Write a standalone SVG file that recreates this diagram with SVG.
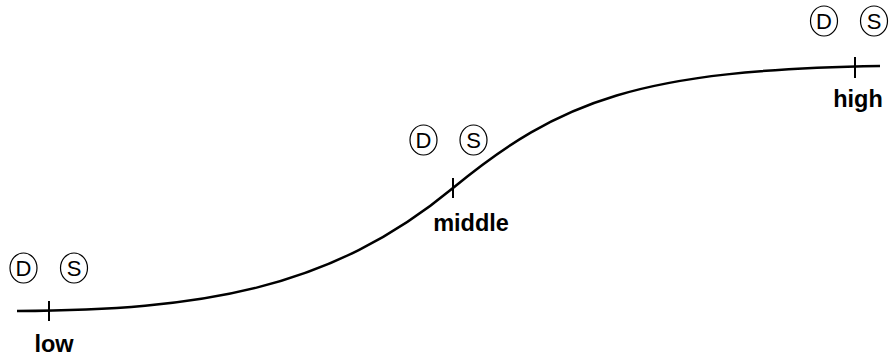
<svg xmlns="http://www.w3.org/2000/svg" width="892" height="356" viewBox="0 0 892 356">
<style>
.c{fill:none;stroke:#000;stroke-width:1.2}
.l{font-family:"Liberation Sans",Arial,sans-serif;font-size:22px;text-anchor:middle;fill:#000}
.b{font-family:"Liberation Sans",Arial,sans-serif;font-size:23.5px;font-weight:bold;text-anchor:middle;fill:#000}
.t{stroke:#000;stroke-width:2}
</style>
<rect width="892" height="356" fill="#fff"/>
<g id="connectors">
<path d="M17,311 C200,310 330,290 453,188 C560,100 640,70 880,66" fill="none" stroke="#000" stroke-width="2.5"/>
</g>
<g id="low">
<line class="t" x1="49" y1="301" x2="49" y2="321"/>
<ellipse class="c" cx="23.5" cy="268" rx="13.5" ry="15"/><text class="l" x="23.5" y="276">D</text>
<ellipse class="c" cx="74" cy="268" rx="13.5" ry="15"/><text class="l" x="74" y="276">S</text>
<text class="b" x="54" y="352">low</text>
</g>
<g id="middle">
<line class="t" x1="453" y1="178" x2="453" y2="198"/>
<ellipse class="c" cx="423.5" cy="140" rx="13.5" ry="15"/><text class="l" x="423.5" y="148">D</text>
<ellipse class="c" cx="473.5" cy="140" rx="13.5" ry="15"/><text class="l" x="473.5" y="148">S</text>
<text class="b" x="471" y="231">middle</text>
</g>
<g id="high">
<line class="t" x1="855" y1="57" x2="855" y2="78"/>
<ellipse class="c" cx="824" cy="21" rx="13.5" ry="15"/><text class="l" x="824" y="29">D</text>
<ellipse class="c" cx="874" cy="21" rx="13.5" ry="15"/><text class="l" x="874" y="29">S</text>
<text class="b" x="858" y="107">high</text>
</g>
</svg>
